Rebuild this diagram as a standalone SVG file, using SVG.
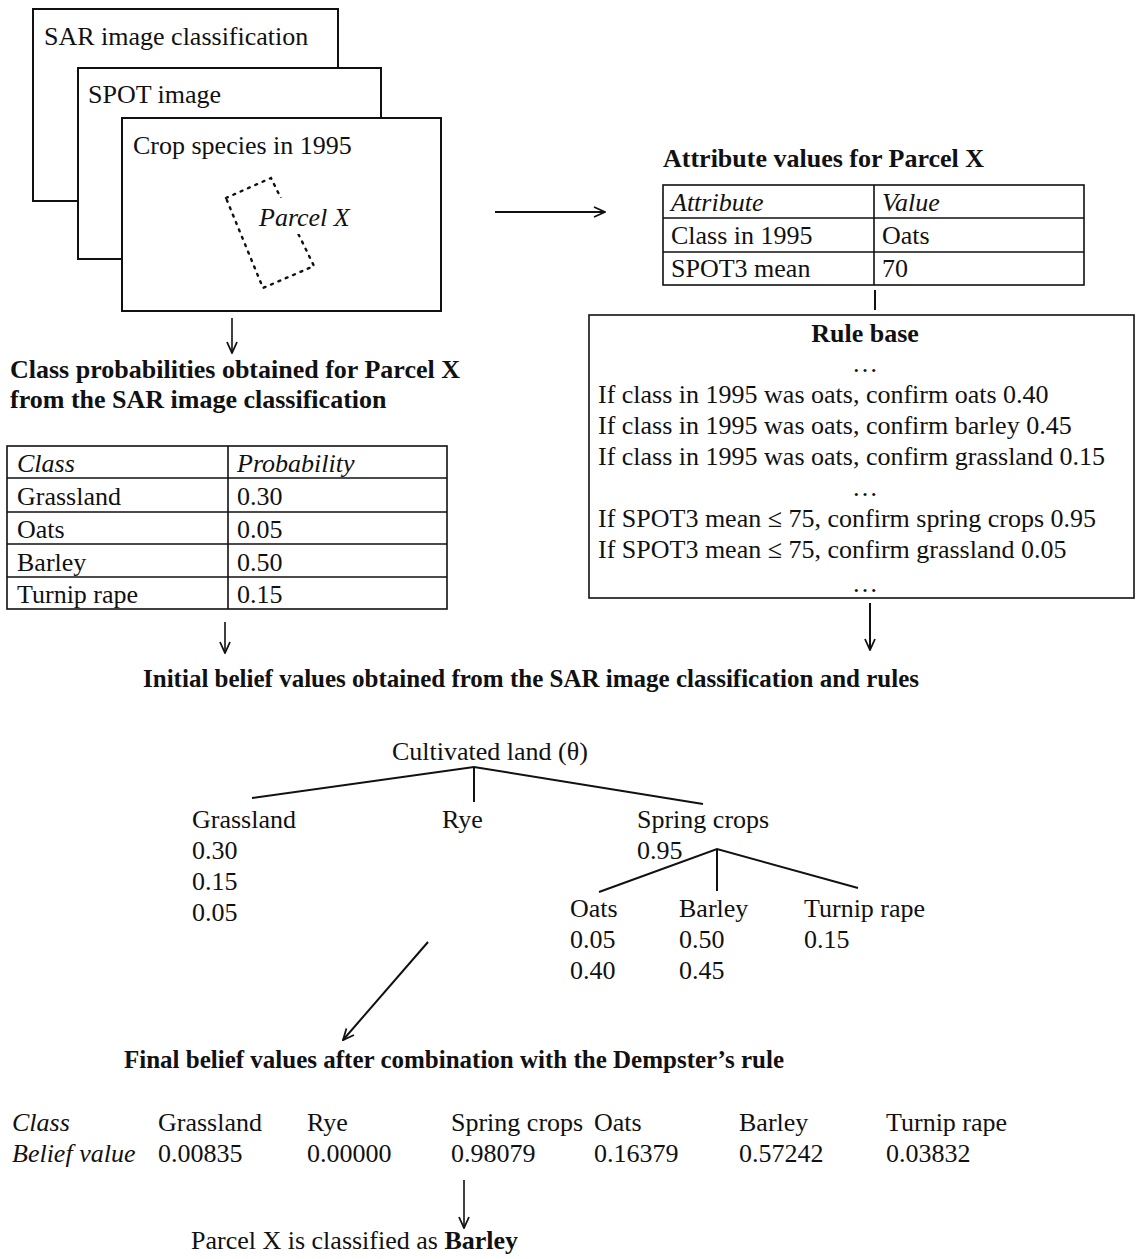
<svg xmlns="http://www.w3.org/2000/svg" width="1139" height="1259" viewBox="0 0 1139 1259">
<style>
text{font-family:"Liberation Serif","Times New Roman",serif;font-size:26px;fill:#111}
.b{font-weight:bold}
.i{font-style:italic}
.t25{font-size:25px}
.m{text-anchor:middle}
.box{fill:#fff;stroke:#111;stroke-width:2}
.tl{fill:none;stroke:#111;stroke-width:1.6}
.ln{fill:none;stroke:#111;stroke-width:2}
</style>
<defs>
<marker id="arr" viewBox="0 0 14 14" refX="13" refY="7" markerWidth="14" markerHeight="14" markerUnits="userSpaceOnUse" orient="auto">
<path d="M2,2 L13,7 L2,12" fill="none" stroke="#111" stroke-width="1.8"/>
</marker>
</defs>
<rect width="1139" height="1259" fill="#fff"/>

<g id="sar-image">
<rect class="box" x="33" y="9" width="305" height="192"/>
<text x="44" y="45">SAR image classification</text>
</g>
<g id="spot-image">
<rect class="box" x="78" y="68" width="303" height="191"/>
<text x="88" y="103">SPOT image</text>
</g>
<g id="crop-species">
<rect class="box" x="122" y="118" width="319" height="193"/>
<text x="133" y="154">Crop species in 1995</text>
<polygon points="226,198 271,178 314,266 263,288" fill="none" stroke="#111" stroke-width="2.4" stroke-dasharray="2,6" stroke-linecap="round"/>
<rect x="255" y="198" width="100" height="36" fill="#fff"/>
<text class="i" x="259" y="226">Parcel X</text>
</g>

<g id="class-prob-title">
<text class="b" x="10" y="378">Class probabilities obtained for Parcel X</text>
<text class="b" x="10" y="408">from the SAR image classification</text>
</g>

<g id="class-prob-table">
<rect class="tl" x="7" y="446" width="440" height="163"/>
<path class="tl" d="M7,478H447M7,512H447M7,544H447M7,577H447M228,446V609"/>
<text class="i" x="17" y="472">Class</text>
<text class="i" x="237" y="472">Probability</text>
<text x="17" y="505">Grassland</text><text x="237" y="505">0.30</text>
<text x="17" y="538">Oats</text><text x="237" y="538">0.05</text>
<text x="17" y="571">Barley</text><text x="237" y="571">0.50</text>
<text x="17" y="603">Turnip rape</text><text x="237" y="603">0.15</text>
</g>

<g id="attribute-title">
<text class="b" x="663" y="167">Attribute values for Parcel X</text>
</g>
<g id="attribute-table">
<rect class="tl" x="663" y="185" width="421" height="100"/>
<path class="tl" d="M663,218H1084M663,252H1084M874,185V285"/>
<text class="i" x="671" y="211">Attribute</text>
<text class="i" x="882" y="211">Value</text>
<text x="671" y="244">Class in 1995</text><text x="882" y="244">Oats</text>
<text x="671" y="277">SPOT3 mean</text><text x="882" y="277">70</text>
</g>

<g id="rule-base">
<rect class="tl" x="589" y="315" width="545" height="283"/>
<text class="b m" x="865" y="342">Rule base</text>
<text class="m" x="865" y="372">…</text>
<text x="598" y="403">If class in 1995 was oats, confirm oats 0.40</text>
<text x="598" y="434">If class in 1995 was oats, confirm barley 0.45</text>
<text x="598" y="465">If class in 1995 was oats, confirm grassland 0.15</text>
<text class="m" x="865" y="496">…</text>
<text x="598" y="527">If SPOT3 mean ≤ 75, confirm spring crops 0.95</text>
<text x="598" y="558">If SPOT3 mean ≤ 75, confirm grassland 0.05</text>
<text class="m" x="865" y="592">…</text>
</g>

<g id="initial-title">
<text class="b t25 m" x="531" y="687">Initial belief values obtained from the SAR image classification and rules</text>
</g>

<g id="tree-root"><text x="392" y="760">Cultivated land (θ)</text></g>
<g id="tree-grassland">
<text x="192" y="828">Grassland</text>
<text x="192" y="859">0.30</text>
<text x="192" y="890">0.15</text>
<text x="192" y="921">0.05</text>
</g>
<g id="tree-rye"><text x="442" y="828">Rye</text></g>
<g id="tree-spring">
<text x="637" y="828">Spring crops</text>
<text x="637" y="859">0.95</text>
</g>
<g id="tree-oats">
<text x="570" y="917">Oats</text>
<text x="570" y="948">0.05</text>
<text x="570" y="979">0.40</text>
</g>
<g id="tree-barley">
<text x="679" y="917">Barley</text>
<text x="679" y="948">0.50</text>
<text x="679" y="979">0.45</text>
</g>
<g id="tree-turnip">
<text x="804" y="917">Turnip rape</text>
<text x="804" y="948">0.15</text>
</g>

<g id="final-title">
<text class="b t25 m" x="454" y="1068">Final belief values after combination with the Dempster’s rule</text>
</g>

<g id="final-values">
<text class="i" x="12" y="1131">Class</text>
<text class="i" x="12" y="1162">Belief value</text>
<text x="158" y="1131">Grassland</text><text x="158" y="1162">0.00835</text>
<text x="307" y="1131">Rye</text><text x="307" y="1162">0.00000</text>
<text x="451" y="1131">Spring crops</text><text x="451" y="1162">0.98079</text>
<text x="594" y="1131">Oats</text><text x="594" y="1162">0.16379</text>
<text x="739" y="1131">Barley</text><text x="739" y="1162">0.57242</text>
<text x="886" y="1131">Turnip rape</text><text x="886" y="1162">0.03832</text>
</g>

<g id="result">
<text x="191" y="1249">Parcel X is classified as <tspan class="b">Barley</tspan></text>
</g>

<g id="connectors">
<line class="tl" x1="232" y1="318" x2="232" y2="353" marker-end="url(#arr)"/>
<line class="ln" x1="495" y1="212" x2="605" y2="212" marker-end="url(#arr)"/>
<line class="ln" x1="875" y1="290" x2="875" y2="310"/>
<line class="tl" x1="225" y1="622" x2="225" y2="653" marker-end="url(#arr)"/>
<line class="ln" x1="870" y1="603" x2="870" y2="650" marker-end="url(#arr)"/>
<path class="ln" d="M252,798L474,767L703,804M474,767V802"/>
<path class="ln" d="M599,892L717,849L858,888M717,849V891"/>
<line class="ln" x1="428" y1="942" x2="343" y2="1040" marker-end="url(#arr)"/>
<line class="tl" x1="464" y1="1180" x2="464" y2="1228" marker-end="url(#arr)"/>
</g>
</svg>
